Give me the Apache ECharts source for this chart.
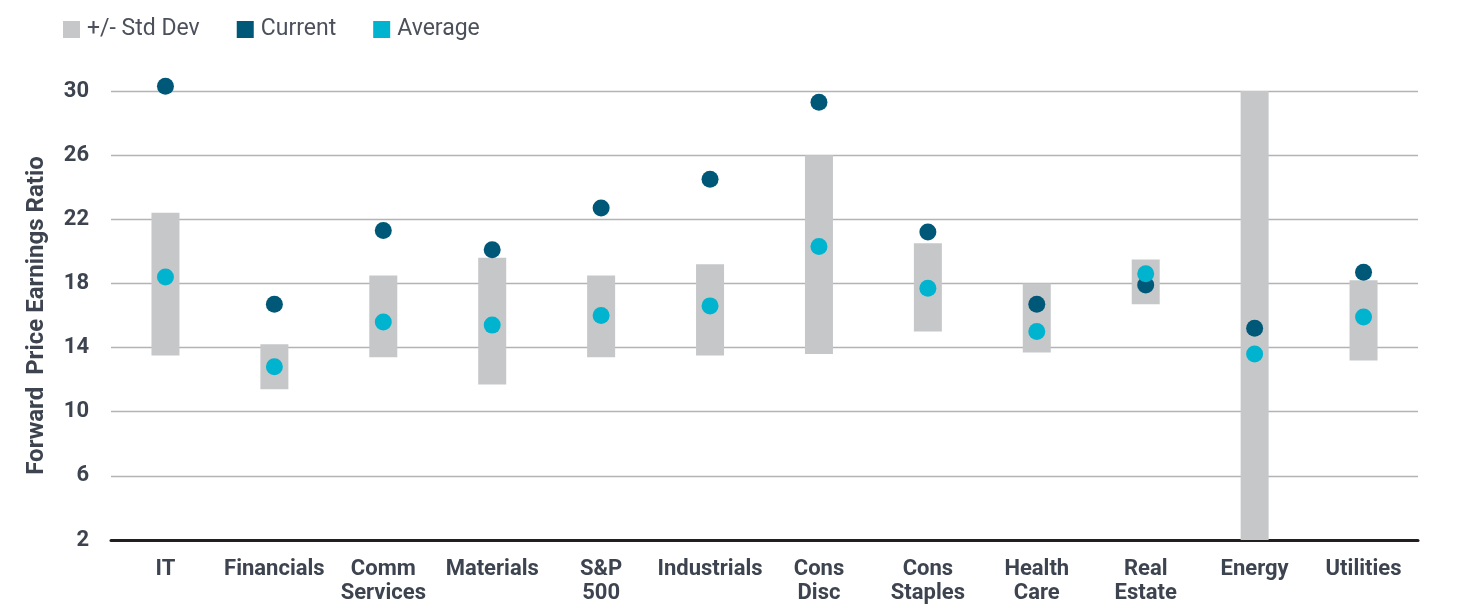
<!DOCTYPE html>
<html>
<head>
<meta charset="utf-8">
<script src="https://cdn.jsdelivr.net/npm/echarts@6/dist/echarts.min.js"></script>
<style>html,body{margin:0;padding:0;background:#fff;}#c{width:1470px;height:614px;}</style>
</head>
<body>
<div id="c"></div>
<script>
const categories = ['IT','Financials','Comm\nServices','Materials','S&P\n500','Industrials','Cons\nDisc','Cons\nStaples','Health\nCare','Real\nEstate','Energy','Utilities'];
const stdLow  = [13.5, 11.4, 13.4, 11.7, 13.4, 13.5, 13.6, 15.0, 13.7, 16.7, 2.0, 13.2];
const stdHigh = [22.4, 14.2, 18.5, 19.6, 18.5, 19.2, 26.0, 20.5, 18.0, 19.5, 30.0, 18.2];
const current = [30.3, 16.7, 21.3, 20.1, 22.7, 24.5, 29.3, 21.2, 16.7, 17.9, 15.2, 18.7];
const average = [18.4, 12.8, 15.6, 15.4, 16.0, 16.6, 20.3, 17.7, 15.0, 18.6, 13.6, 15.9];
const yTicks = [2, 6, 10, 14, 18, 22, 26, 30];

const font = 'Roboto';
const chart = echarts.init(document.getElementById('c'), null, {renderer: 'canvas'});
chart.setOption({
  animation: false,
  backgroundColor: '#ffffff',
  legend: {
    left: 58, top: 13,
    itemWidth: 17, itemHeight: 17, itemGap: 37,
    icon: 'rect',
    data: ['+/- Std Dev', 'Current', 'Average'],
    textStyle: {fontFamily: font, fontSize: 23, color: '#4b505b', padding: [0, 0, 0, 2]}
  },
  grid: {left: 111, right: 52, top: 91, bottom: 74, containLabel: false},
  xAxis: {
    type: 'category',
    data: categories,
    axisLine: {show: true, lineStyle: {color: '#231f20', width: 3}},
    axisTick: {show: false},
    axisLabel: {interval: 0, margin: 17, fontFamily: font, fontWeight: 'bold', fontSize: 22, lineHeight: 24, color: '#3d4450', verticalAlign: 'top'}
  },
  yAxis: {
    type: 'value', min: 2, max: 30, interval: 4,
    name: 'Forward  Price Earnings Ratio',
    nameLocation: 'middle', nameGap: 62, nameRotate: 90,
    nameTextStyle: {fontFamily: font, fontWeight: 'bold', fontSize: 24, color: '#3d4450'},
    axisLine: {show: false}, axisTick: {show: false},
    axisLabel: {margin: 22, fontFamily: font, fontWeight: 'bold', fontSize: 22, color: '#3d4450',
      formatter: v => yTicks.includes(v) ? String(v) : ''},
    splitLine: {lineStyle: {color: '#b3b3b3', width: 1.3}}
  },
  series: [
    {name: 'base', type: 'bar', stack: 'sd', barWidth: 28, silent: true,
     itemStyle: {color: 'transparent'}, data: stdLow},
    {name: '+/- Std Dev', type: 'bar', stack: 'sd', barWidth: 28,
     itemStyle: {color: '#c6c7c9'}, data: stdHigh.map((h, i) => +(h - stdLow[i]).toFixed(2))},
    {name: 'Current', type: 'scatter', symbol: 'circle', symbolSize: 17, clip: false,
     itemStyle: {color: '#005878', opacity: 1}, data: current, z: 3},
    {name: 'Average', type: 'scatter', symbol: 'circle', symbolSize: 17, clip: false,
     itemStyle: {color: '#00b4d0', opacity: 1}, data: average, z: 4}
  ]
});
</script>
</body>
</html>
